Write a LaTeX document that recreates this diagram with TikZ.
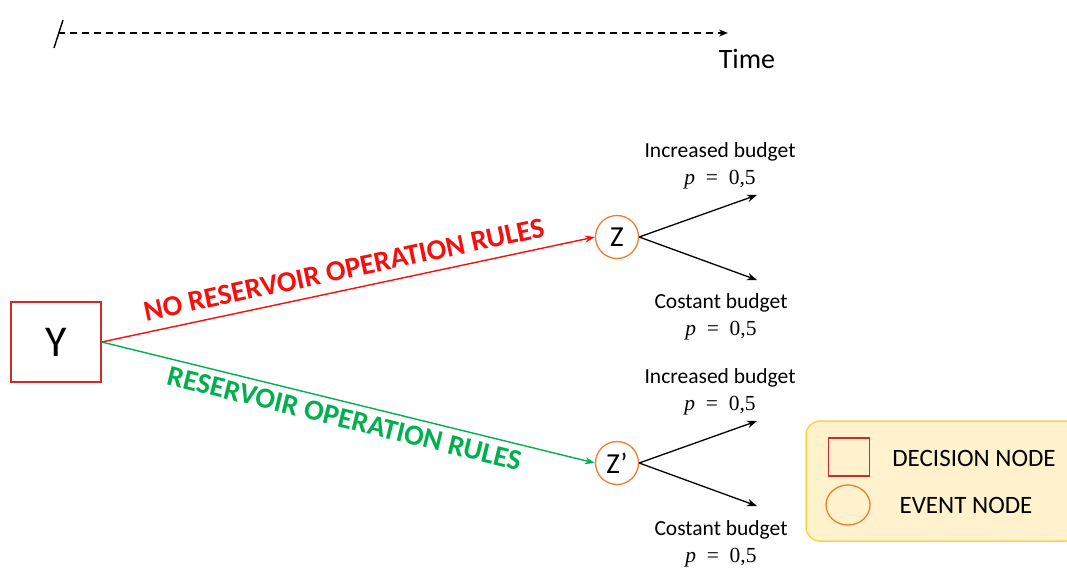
\documentclass[tikz,border=0pt]{standalone}
\usepackage{fontspec}
\setmainfont{Carlito}
\newfontfamily\mathlike{Liberation Serif}
\usetikzlibrary{arrows.meta}
\definecolor{decred}{HTML}{D02A2A}
\definecolor{optred}{HTML}{F50F0F}
\definecolor{optgreen}{HTML}{00B050}
\definecolor{evorange}{HTML}{ED7D31}
\definecolor{legfill}{HTML}{FFF2CC}
\definecolor{legdraw}{HTML}{FFD24D}
\newcommand{\prob}{{\mathlike\itshape p}\enspace{\mathlike =}\enspace{\mathlike 0,5}}
\tikzset{
  x=1pt, y=-1pt,
  decision/.style={draw=decred, line width=1.3pt, minimum width=90pt, minimum height=80pt, inner sep=0pt, font=\fontsize{44}{48}\selectfont},
  event/.style={draw=evorange, line width=1.3pt, circle, minimum size=43pt, inner sep=0pt, font=\fontsize{29}{32}\selectfont},
  branch/.style={-{Stealth[length=10pt,width=7.5pt]}, line width=1.3pt, black},
  outcome/.style={align=center, font=\fontsize{21.5}{27}\selectfont},
  optlabel/.style={font=\fontsize{29}{32}\selectfont\bfseries, inner sep=1pt},
  legtext/.style={font=\fontsize{25}{28}\selectfont, anchor=center}
}
\begin{document}
\begin{tikzpicture}
\useasboundingbox (0,0) rectangle (1067,567);
\fill[white] (0,0) rectangle (1067,567);

% time axis
\coordinate (t0) at (58,33);
\coordinate (t1) at (728,33);
\draw[line width=1.4pt, dash pattern=on 7pt off 5pt, -{Stealth[length=9pt,width=7pt]}] (t0) -- (t1);
\draw[line width=1.4pt] (54,48) -- (63,20);
\node[font=\fontsize{28}{32}\selectfont] (time) at (747,59) {Time};

% decision and event nodes
\node[decision] (Y) at (56,342) {Y};
\node[event] (Z) at (617,237) {Z};
\node[event] (Zp) at (617,463) {Z’};

% options
\draw[draw=optred, line width=1.4pt, -{Stealth[length=10pt,width=7pt]}] (Y.east) -- (Z.west)
  node[pos=0.5, sloped, above, optlabel, text=optred, yshift=9pt] {NO RESERVOIR OPERATION RULES};
\draw[draw=optgreen, line width=1.4pt, -{Stealth[length=10pt,width=7pt]}] (Y.east) -- (Zp.west)
  node[pos=0.5, sloped, below, optlabel, text=optgreen, yshift=-5pt] {RESERVOIR OPERATION RULES};

% outcomes
\coordinate (a1) at (757,195);
\coordinate (a2) at (757,280);
\coordinate (b1) at (757,421);
\coordinate (b2) at (757,506);
\draw[branch] (Z.east) -- (a1);
\draw[branch] (Z.east) -- (a2);
\draw[branch] (Zp.east) -- (b1);
\draw[branch] (Zp.east) -- (b2);
\node[outcome] (oa1) at (720,166) {Increased budget\\ \prob};
\node[outcome] (oa2) at (721,317) {Costant budget\\ \prob};
\node[outcome] (ob1) at (720,392) {Increased budget\\ \prob};
\node[outcome] (ob2) at (721,544) {Costant budget\\ \prob};

% legend
\draw[draw=legdraw, fill=legfill, line width=1.5pt, rounded corners=14pt] (806,421) rectangle (1080,541);
\node[draw=decred, line width=1.3pt, minimum width=41pt, minimum height=38pt, inner sep=0pt] (ld) at (849,457) {};
\node[draw=evorange, line width=1.3pt, circle, minimum size=40pt, inner sep=0pt, xscale=1.1] (le) at (848,505) {};
\node[legtext] (ldt) at (974,458) {DECISION NODE};
\node[legtext] (let) at (966,505) {EVENT NODE};
\end{tikzpicture}
\end{document}
